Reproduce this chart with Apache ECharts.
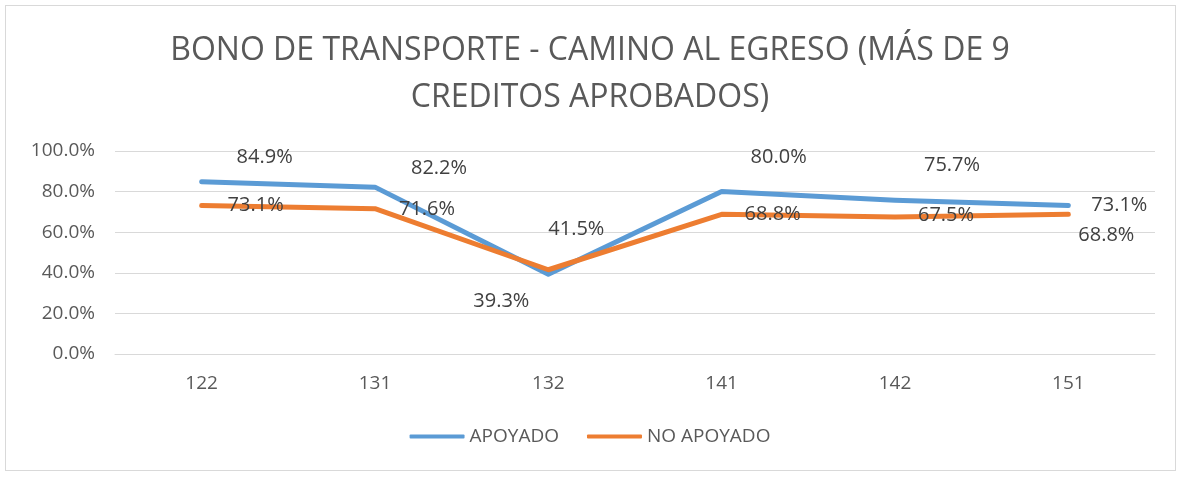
<!DOCTYPE html>
<html>
<head>
<meta charset="utf-8">
<script src="https://cdn.jsdelivr.net/npm/echarts@6/dist/echarts.min.js"></script>
<style>
  html, body { margin: 0; padding: 0; background: #fff; }
  #frame { position: absolute; left: 5px; top: 5px; width: 1169px; height: 464px; border: 1px solid #d9d9d9; }
  #chart { width: 1180px; height: 477px; }
</style>
</head>
<body>
<div id="frame"></div>
<div id="chart"></div>
<script>
const categories = ['122', '131', '132', '141', '142', '151'];
const apoyado = [84.9, 82.2, 39.3, 80.0, 75.7, 73.1];
const noApoyado = [73.1, 71.6, 41.5, 68.8, 67.5, 68.8];
const yTicks = [0, 20, 40, 60, 80, 100];

// label offsets (px) from each point, as placed in the original
const apoyadoLabelOffsets = [[63, -24], [64, -19], [-47, 27], [57, -34], [57, -35], [51, 0]];
const noApoyadoLabelOffsets = [[54, 0], [52, 1], [28, -40], [51, 0], [51, -2], [38, 21]];

const FONT = "'Open Sans', 'Noto Sans', sans-serif";

function buildData(values, offsets) {
  return values.map((v, i) => ({
    value: v,
    label: { offset: offsets[i] }
  }));
}

function makeSeries(name, color, values, offsets) {
  return {
    name: name,
    type: 'line',
    symbol: 'circle',
    symbolSize: 1,
    itemStyle: { color: color },
    lineStyle: { color: color, width: 5, cap: 'round', join: 'round' },
    label: {
      show: true,
      position: 'inside',
      color: '#404040',
      fontSize: 20,
      fontFamily: FONT,
      formatter: p => p.value.toFixed(1) + '%'
    },
    emphasis: { disabled: true },
    data: buildData(values, offsets)
  };
}

const chart = echarts.init(document.getElementById('chart'));
chart.setOption({
  backgroundColor: 'transparent',
  animation: false,
  title: {
    text: 'BONO DE TRANSPORTE - CAMINO AL EGRESO (MÁS DE 9\nCREDITOS APROBADOS)',
    left: 'center',
    top: 22,
    textStyle: {
      color: '#595959',
      fontSize: 32,
      fontWeight: 'normal',
      fontFamily: FONT,
      lineHeight: 47
    }
  },
  legend: {
    bottom: 26,
    left: 'center',
    icon: 'roundRect',
    itemWidth: 55,
    itemHeight: 4,
    itemGap: 28,
    itemTextGap: 4,
    textStyle: { color: '#595959', fontSize: 19, fontFamily: FONT },
    data: ['APOYADO', 'NO APOYADO']
  },
  grid: {
    left: 115,
    right: 25,
    top: 151,
    bottom: 123,
    containLabel: false
  },
  xAxis: {
    type: 'category',
    data: categories,
    boundaryGap: true,
    axisLine: { show: true, lineStyle: { color: '#d9d9d9', width: 1 } },
    axisTick: { show: false },
    axisLabel: { color: '#595959', fontSize: 19, fontFamily: FONT, margin: 20 }
  },
  yAxis: {
    type: 'value',
    min: yTicks[0],
    max: yTicks[yTicks.length - 1],
    interval: 20,
    axisLine: { show: false },
    axisTick: { show: false },
    axisLabel: {
      color: '#595959',
      fontSize: 19,
      fontFamily: FONT,
      margin: 20,
      formatter: v => v.toFixed(1) + '%'
    },
    splitLine: { lineStyle: { color: '#d9d9d9', width: 1 } }
  },
  series: [
    makeSeries('APOYADO', '#5b9bd5', apoyado, apoyadoLabelOffsets),
    makeSeries('NO APOYADO', '#ed7d31', noApoyado, noApoyadoLabelOffsets)
  ]
});
</script>
</body>
</html>
